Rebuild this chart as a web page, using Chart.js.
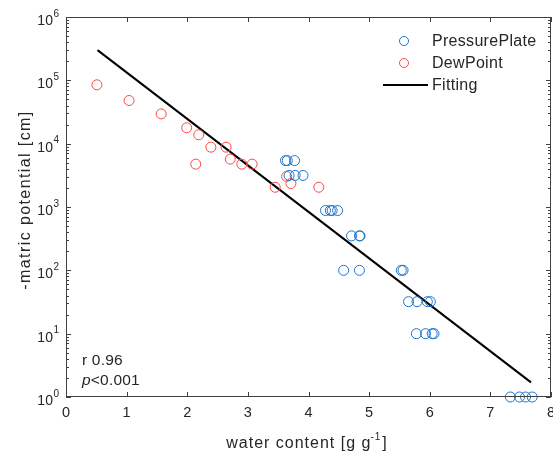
<!DOCTYPE html>
<html>
<head>
<meta charset="utf-8">
<script src="https://cdn.jsdelivr.net/npm/chart.js@4"></script>
<style>
  html, body { margin: 0; padding: 0; background: #fff; }
  #wrap { width: 553px; height: 452px; }
</style>
</head>
<body>
<div id="wrap"><canvas id="c"></canvas></div>
<script>
// PressurePlate points
const ppX = [3.62, 3.65, 3.77, 3.68, 3.78, 3.91, 4.28, 4.36, 4.39, 4.48, 4.71, 4.84, 4.85,
             4.58, 4.84, 5.53, 5.56, 5.65, 5.79, 5.96, 6.01, 5.78, 5.93, 6.04, 6.07,
             7.33, 7.48, 7.58, 7.69];
const ppY = [5400, 5400, 5400, 3150, 3150, 3150, 880, 880, 880, 880, 350, 350, 350,
             100, 100, 100, 100, 32, 32, 32, 32, 10, 10, 10, 10,
             1, 1, 1, 1];

// DewPoint points
const dpX = [0.51, 1.04, 1.57, 1.99, 2.19, 2.39, 2.64, 2.14, 2.71, 2.90, 3.07, 3.45, 3.64, 3.71, 4.17];
const dpY = [85000, 48000, 29500, 17800, 13800, 8800, 8800, 4750, 5700, 4750, 4750, 2050, 3040, 2350, 2050];

// fitted line end points
const fitX = [0.52, 7.67];
const fitY = [300000, 1.7];

const xTicks = [0, 1, 2, 3, 4, 5, 6, 7, 8];
const yPowers = [0, 1, 2, 3, 4, 5, 6];

const BLUE = 'rgb(30,115,200)';
const RED = 'rgb(255,70,70)';
const INK = '#262626';
const FONT = '"Liberation Sans", Arial, sans-serif';

const pts = (xs, ys) => xs.map((x, i) => ({ x: x, y: ys[i] }));

const frame = {
    id: 'frame',
    afterDraw(chart) {
        const ctx = chart.ctx;
        const a = chart.chartArea;
        const xs = chart.scales.x, ys = chart.scales.y;
        ctx.save();
        ctx.strokeStyle = '#404040';
        ctx.lineWidth = 1;
        ctx.strokeRect(a.left + 0.5, a.top + 0.5, a.right - a.left - 1, a.bottom - a.top - 1);

        // ticks pointing inward
        ctx.beginPath();
        xTicks.forEach(v => {
            const px = Math.round(xs.getPixelForValue(v)) + 0.5;
            ctx.moveTo(px, a.bottom); ctx.lineTo(px, a.bottom - 5);
            ctx.moveTo(px, a.top); ctx.lineTo(px, a.top + 5);
        });
        yPowers.forEach(p => {
            for (let m = 1; m <= 9; m++) {
                if (p === 6 && m > 1) break;
                const py = Math.round(ys.getPixelForValue(m * Math.pow(10, p))) + 0.5;
                const len = m === 1 ? 5 : 3;
                ctx.moveTo(a.left, py); ctx.lineTo(a.left + len, py);
                ctx.moveTo(a.right, py); ctx.lineTo(a.right - len, py);
            }
        });
        ctx.stroke();

        // x tick labels
        ctx.fillStyle = INK;
        ctx.font = '14.5px ' + FONT;
        ctx.textAlign = 'center';
        ctx.textBaseline = 'middle';
        xTicks.forEach(v => {
            ctx.fillText(String(v), xs.getPixelForValue(v), a.bottom + 16);
        });

        // y tick labels 10^n
        yPowers.forEach(p => {
            const py = ys.getPixelForValue(Math.pow(10, p));
            ctx.font = '10px ' + FONT;
            const sw = ctx.measureText(String(p)).width;
            ctx.textAlign = 'left';
            ctx.fillText(String(p), 59 - sw, py - 3);
            ctx.font = '14px ' + FONT;
            ctx.textAlign = 'right';
            ctx.fillText('10', 59 - sw - 0.5, py + 4);
        });

        // y title
        ctx.save();
        ctx.translate(30, 200);
        ctx.rotate(-Math.PI / 2);
        ctx.font = '16px ' + FONT;
        ctx.letterSpacing = '1.4px';
        ctx.textAlign = 'center';
        ctx.textBaseline = 'alphabetic';
        ctx.fillText('-matric potential [cm]', 0, 0);
        ctx.restore();

        // x title with superscript
        ctx.letterSpacing = '1px';
        ctx.textBaseline = 'alphabetic';
        ctx.font = '16px ' + FONT;
        const base = 'water content [g g';
        const bw = ctx.measureText(base).width;
        ctx.font = '10px ' + FONT;
        const sup = '-1';
        const supW = ctx.measureText(sup).width;
        ctx.font = '16px ' + FONT;
        const cw = ctx.measureText(']').width;
        const x0 = 307 - (bw + supW + cw) / 2;
        ctx.textAlign = 'left';
        ctx.fillText(base, x0, 448);
        ctx.font = '10px ' + FONT;
        ctx.fillText(sup, x0 + bw - 1, 440);
        ctx.font = '16px ' + FONT;
        ctx.fillText(']', x0 + bw + supW, 448);
        ctx.letterSpacing = '0px';

        // legend
        ctx.textBaseline = 'middle';
        ctx.lineWidth = 1;
        ctx.strokeStyle = BLUE;
        ctx.beginPath(); ctx.arc(404, 41, 4.5, 0, Math.PI * 2); ctx.stroke();
        ctx.strokeStyle = RED;
        ctx.beginPath(); ctx.arc(404, 63, 4.5, 0, Math.PI * 2); ctx.stroke();
        ctx.strokeStyle = '#000';
        ctx.lineWidth = 2;
        ctx.beginPath(); ctx.moveTo(383, 85); ctx.lineTo(428, 85); ctx.stroke();
        ctx.fillStyle = INK;
        ctx.font = '16px ' + FONT;
        ctx.letterSpacing = '0.3px';
        ctx.fillText('PressurePlate', 432, 42);
        ctx.fillText('DewPoint', 432, 64);
        ctx.fillText('Fitting', 432, 86);

        // statistics note
        ctx.letterSpacing = '0.2px';
        ctx.font = '15.5px ' + FONT;
        ctx.fillText('r 0.96', 82, 361);
        ctx.font = 'italic 15.5px ' + FONT;
        ctx.fillText('p', 82, 381);
        const pw = ctx.measureText('p').width;
        ctx.font = '15.5px ' + FONT;
        ctx.fillText('<0.001', 82 + pw, 381);
        ctx.restore();
    }
};

new Chart(document.getElementById('c'), {
    type: 'scatter',
    data: {
        datasets: [
            {
                label: 'PressurePlate',
                data: pts(ppX, ppY),
                pointStyle: 'circle',
                pointRadius: 5,
                borderWidth: 1,
                borderColor: BLUE,
                backgroundColor: 'rgba(0,0,0,0)',
                clip: false
            },
            {
                label: 'DewPoint',
                data: pts(dpX, dpY),
                pointStyle: 'circle',
                pointRadius: 5,
                borderWidth: 1,
                borderColor: RED,
                backgroundColor: 'rgba(0,0,0,0)',
                clip: false
            },
            {
                label: 'Fitting',
                data: pts(fitX, fitY),
                showLine: true,
                pointRadius: 0,
                borderWidth: 2,
                borderColor: '#000',
                clip: false
            }
        ]
    },
    options: {
        responsive: true,
        maintainAspectRatio: false,
        animation: false,
        layout: { autoPadding: false, padding: { top: 17, right: 2, left: 0, bottom: 0 } },
        plugins: {
            legend: { display: false },
            tooltip: { enabled: false }
        },
        scales: {
            x: {
                type: 'linear',
                min: 0,
                max: 8,
                grid: { display: false, drawTicks: false },
                border: { display: false },
                ticks: { display: false },
                afterFit: s => { s.height = 55; }
            },
            y: {
                type: 'logarithmic',
                min: 1,
                max: 1e6,
                grid: { display: false, drawTicks: false },
                border: { display: false },
                ticks: { display: false },
                afterFit: s => { s.width = 66; }
            }
        }
    },
    plugins: [frame]
});
</script>
</body>
</html>
